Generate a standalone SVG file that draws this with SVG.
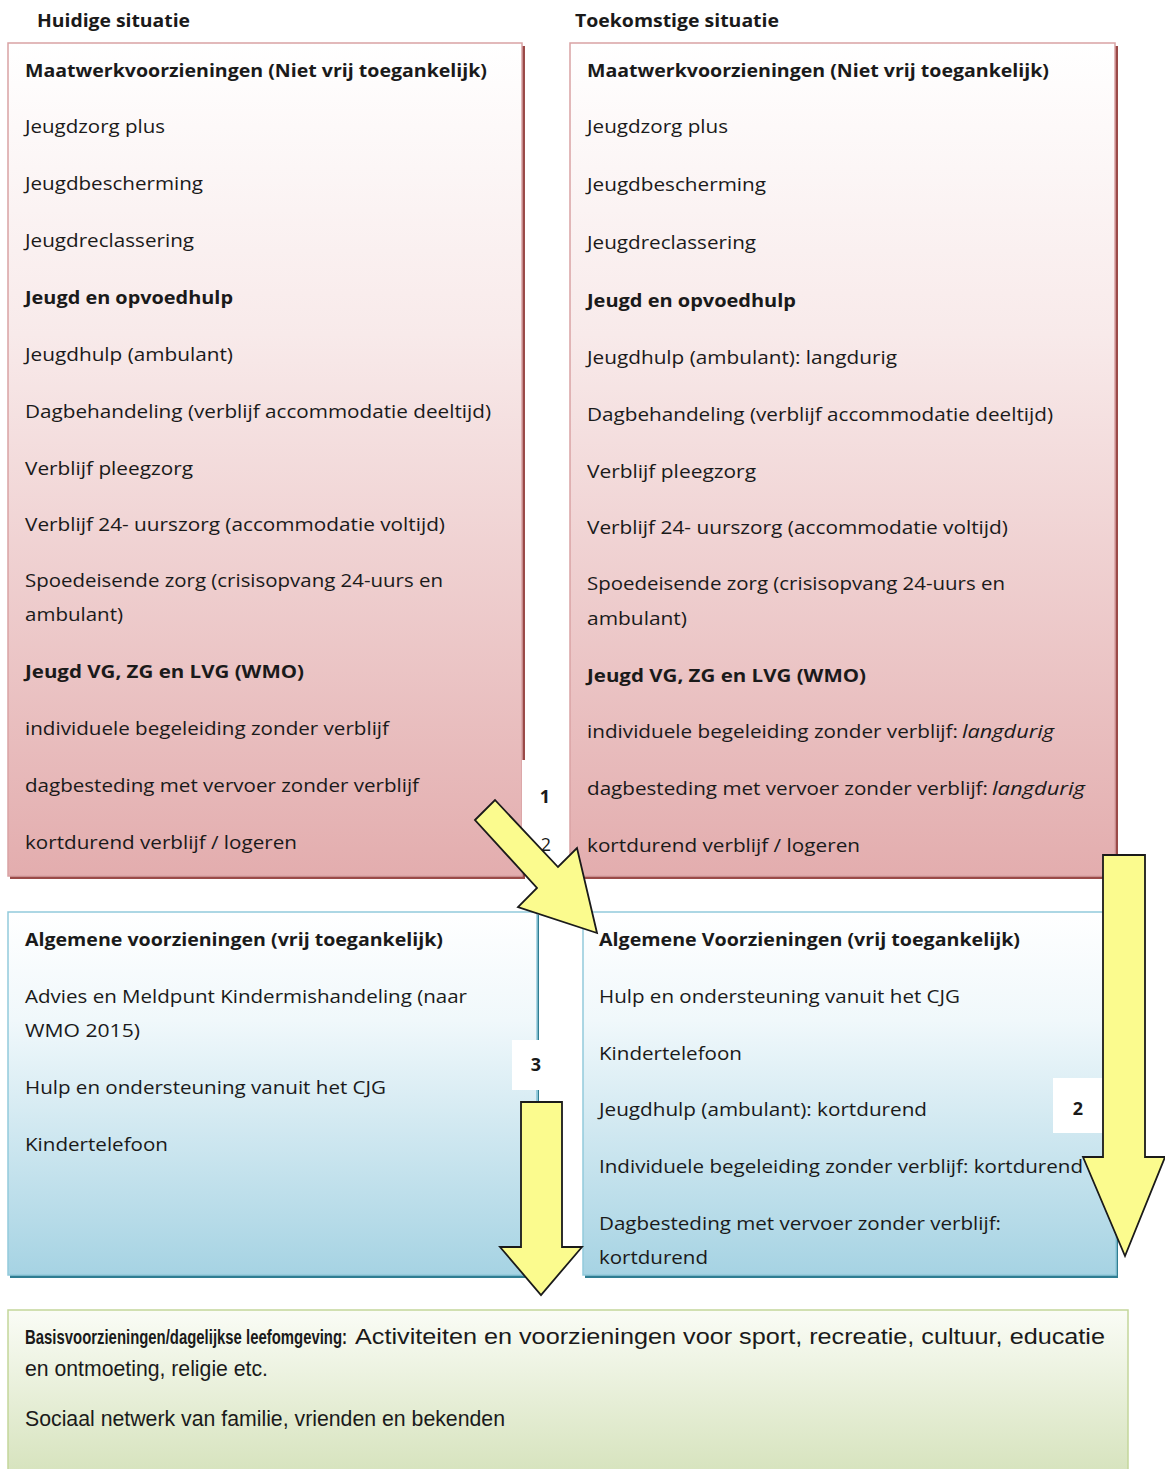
<svg xmlns="http://www.w3.org/2000/svg" width="1165" height="1469" viewBox="0 0 1165 1469">
<defs>
<linearGradient id="gRed" x1="0" y1="0" x2="0" y2="1">
<stop offset="0" stop-color="#ffffff"/><stop offset="0.35" stop-color="#f8eaea"/><stop offset="1" stop-color="#e3adae"/>
</linearGradient>
<linearGradient id="gBlue" x1="0" y1="0" x2="0" y2="1">
<stop offset="0" stop-color="#ffffff"/><stop offset="0.3" stop-color="#f0f8fb"/><stop offset="1" stop-color="#a6d3e3"/>
</linearGradient>
<linearGradient id="gGreen" x1="0" y1="0" x2="0" y2="1">
<stop offset="0" stop-color="#fafcf6"/><stop offset="1" stop-color="#d5e2bb"/>
</linearGradient>
<clipPath id="clipBR"><rect x="583" y="912" width="533" height="354"/></clipPath>
</defs>
<style>
text{font-family:"Open Sans","Liberation Sans",sans-serif;font-size:18px;fill:#1a1a1a}
.b{font-weight:bold}
.i{font-style:italic}
.g{font-family:"Liberation Sans",Arial,sans-serif;font-size:22px}
.gb{font-family:"Liberation Sans",Arial,sans-serif;font-size:14px;font-weight:bold}
.red{fill:url(#gRed);stroke:#d9a3a4;stroke-width:1.5}
.redsh{fill:#9a4a48}
.blue{fill:url(#gBlue);stroke:#92cadb;stroke-width:1.5}
.bluesh{fill:#2f7d92}
.green{fill:url(#gGreen);stroke:#c3d69b;stroke-width:1.5}
.lbl{fill:#ffffff}
.arrow{fill:#fbfb8e;stroke:#1a1a1a;stroke-width:1.8;stroke-linejoin:miter}
</style>

<g id="header-huidig"><text class="b" x="37" y="27" textLength="153" lengthAdjust="spacingAndGlyphs">Huidige situatie</text></g>
<g id="header-toekomst"><text class="b" x="575" y="27" textLength="204" lengthAdjust="spacingAndGlyphs">Toekomstige situatie</text></g>

<g id="maatwerk-huidig">
<rect class="redsh" x="10" y="46" width="515" height="833"/>
<rect class="red" x="8" y="43" width="514" height="833"/>
<text class="b" x="25" y="77" textLength="462" lengthAdjust="spacingAndGlyphs">Maatwerkvoorzieningen (Niet vrij toegankelijk)</text>
<text x="25" y="133" textLength="140" lengthAdjust="spacingAndGlyphs">Jeugdzorg plus</text>
<text x="25" y="190" textLength="178" lengthAdjust="spacingAndGlyphs">Jeugdbescherming</text>
<text x="25" y="247" textLength="169" lengthAdjust="spacingAndGlyphs">Jeugdreclassering</text>
<text class="b" x="25" y="304" textLength="208" lengthAdjust="spacingAndGlyphs">Jeugd en opvoedhulp</text>
<text x="25" y="361" textLength="208" lengthAdjust="spacingAndGlyphs">Jeugdhulp (ambulant)</text>
<text x="25" y="418" textLength="466" lengthAdjust="spacingAndGlyphs">Dagbehandeling (verblijf accommodatie deeltijd)</text>
<text x="25" y="475" textLength="168" lengthAdjust="spacingAndGlyphs">Verblijf pleegzorg</text>
<text x="25" y="531" textLength="420" lengthAdjust="spacingAndGlyphs">Verblijf 24- uurszorg (accommodatie voltijd)</text>
<text x="25" y="587" textLength="418" lengthAdjust="spacingAndGlyphs">Spoedeisende zorg (crisisopvang 24-uurs en</text>
<text x="25" y="621" textLength="98" lengthAdjust="spacingAndGlyphs">ambulant)</text>
<text class="b" x="25" y="678" textLength="279" lengthAdjust="spacingAndGlyphs">Jeugd VG, ZG en LVG (WMO)</text>
<text x="25" y="735" textLength="364" lengthAdjust="spacingAndGlyphs">individuele begeleiding zonder verblijf</text>
<text x="25" y="792" textLength="394" lengthAdjust="spacingAndGlyphs">dagbesteding met vervoer zonder verblijf</text>
<text x="25" y="849" textLength="272" lengthAdjust="spacingAndGlyphs">kortdurend verblijf / logeren</text>
</g>

<g id="maatwerk-toekomst">
<rect class="redsh" x="572" y="46" width="546" height="833"/>
<rect class="red" x="570" y="43" width="545" height="833"/>
<text class="b" x="587" y="77" textLength="462" lengthAdjust="spacingAndGlyphs">Maatwerkvoorzieningen (Niet vrij toegankelijk)</text>
<text x="587" y="133" textLength="141" lengthAdjust="spacingAndGlyphs">Jeugdzorg plus</text>
<text x="587" y="191" textLength="179" lengthAdjust="spacingAndGlyphs">Jeugdbescherming</text>
<text x="587" y="249" textLength="169" lengthAdjust="spacingAndGlyphs">Jeugdreclassering</text>
<text class="b" x="587" y="307" textLength="209" lengthAdjust="spacingAndGlyphs">Jeugd en opvoedhulp</text>
<text x="587" y="364" textLength="310" lengthAdjust="spacingAndGlyphs">Jeugdhulp (ambulant): langdurig</text>
<text x="587" y="421" textLength="466" lengthAdjust="spacingAndGlyphs">Dagbehandeling (verblijf accommodatie deeltijd)</text>
<text x="587" y="478" textLength="169" lengthAdjust="spacingAndGlyphs">Verblijf pleegzorg</text>
<text x="587" y="534" textLength="421" lengthAdjust="spacingAndGlyphs">Verblijf 24- uurszorg (accommodatie voltijd)</text>
<text x="587" y="590" textLength="418" lengthAdjust="spacingAndGlyphs">Spoedeisende zorg (crisisopvang 24-uurs en</text>
<text x="587" y="625" textLength="100" lengthAdjust="spacingAndGlyphs">ambulant)</text>
<text class="b" x="587" y="682" textLength="279" lengthAdjust="spacingAndGlyphs">Jeugd VG, ZG en LVG (WMO)</text>
<text x="587" y="738" textLength="371" lengthAdjust="spacingAndGlyphs">individuele begeleiding zonder verblijf:</text>
<text class="i" x="962" y="738" textLength="92" lengthAdjust="spacingAndGlyphs">langdurig</text>
<text x="587" y="795" textLength="401" lengthAdjust="spacingAndGlyphs">dagbesteding met vervoer zonder verblijf:</text>
<text class="i" x="992" y="795" textLength="93" lengthAdjust="spacingAndGlyphs">langdurig</text>
<text x="587" y="852" textLength="273" lengthAdjust="spacingAndGlyphs">kortdurend verblijf / logeren</text>
</g>

<g id="algemeen-huidig">
<rect class="bluesh" x="10" y="915" width="529" height="363"/>
<rect class="blue" x="8" y="912" width="529" height="363"/>
<text class="b" x="25" y="946" textLength="418" lengthAdjust="spacingAndGlyphs">Algemene voorzieningen (vrij toegankelijk)</text>
<text x="25" y="1003" textLength="442" lengthAdjust="spacingAndGlyphs">Advies en Meldpunt Kindermishandeling (naar</text>
<text x="25" y="1037" textLength="115" lengthAdjust="spacingAndGlyphs">WMO 2015)</text>
<text x="25" y="1094" textLength="361" lengthAdjust="spacingAndGlyphs">Hulp en ondersteuning vanuit het CJG</text>
<text x="25" y="1151" textLength="143" lengthAdjust="spacingAndGlyphs">Kindertelefoon</text>
</g>

<g id="algemeen-toekomst">
<rect class="bluesh" x="585" y="915" width="533" height="363"/>
<rect class="blue" x="583" y="912" width="533" height="363"/>
<g clip-path="url(#clipBR)">
<text class="b" x="599" y="946" textLength="421" lengthAdjust="spacingAndGlyphs">Algemene Voorzieningen (vrij toegankelijk)</text>
<text x="599" y="1003" textLength="361" lengthAdjust="spacingAndGlyphs">Hulp en ondersteuning vanuit het CJG</text>
<text x="599" y="1060" textLength="143" lengthAdjust="spacingAndGlyphs">Kindertelefoon</text>
<text x="599" y="1116" textLength="328" lengthAdjust="spacingAndGlyphs">Jeugdhulp (ambulant): kortdurend</text>
<text x="599" y="1173" textLength="484" lengthAdjust="spacingAndGlyphs">Individuele begeleiding zonder verblijf: kortdurend</text>
<text x="599" y="1230" textLength="402" lengthAdjust="spacingAndGlyphs">Dagbesteding met vervoer zonder verblijf:</text>
<text x="599" y="1264" textLength="109" lengthAdjust="spacingAndGlyphs">kortdurend</text>
</g>
</g>

<g id="basisvoorzieningen">
<rect class="green" x="8" y="1310" width="1120" height="170"/>
<text class="gb" transform="translate(25,1344) scale(1,1.4)" x="0" y="0" textLength="322" lengthAdjust="spacingAndGlyphs">Basisvoorzieningen/dagelijkse leefomgeving:</text>
<text class="g" x="355" y="1344" textLength="750" lengthAdjust="spacingAndGlyphs">Activiteiten en voorzieningen voor sport, recreatie, cultuur, educatie</text>
<text class="g" x="25" y="1376" textLength="243" lengthAdjust="spacingAndGlyphs">en ontmoeting, religie etc.</text>
<text class="g" x="25" y="1426" textLength="480" lengthAdjust="spacingAndGlyphs">Sociaal netwerk van familie, vrienden en bekenden</text>
</g>

<g id="label-1">
<rect class="lbl" x="522" y="760" width="47" height="97"/>
<text class="b" x="545" y="803" text-anchor="middle" font-size="20">1</text>
<text x="546" y="851" text-anchor="middle" font-size="7">2</text>
</g>
<g id="label-3">
<rect class="lbl" x="512" y="1040" width="48" height="50"/>
<line x1="537" y1="1090" x2="537" y2="1102" stroke="#92cadb" stroke-width="1.5"/>
<text class="b" x="536" y="1071" text-anchor="middle" font-size="20">3</text>
</g>
<g id="label-2">
<rect class="lbl" x="1053" y="1078" width="50" height="55"/>
<text class="b" x="1078" y="1115" text-anchor="middle" font-size="20">2</text>
</g>

<g id="connectors">
<polygon class="arrow" points="475,820 495,800 558,867 577,848 597,933 518,907 537,888"/>
<polygon class="arrow" points="1103,855 1145,855 1145,1157 1165,1157 1125,1256 1083,1157 1103,1157"/>
<polygon class="arrow" points="521,1102 562,1102 562,1247 582,1247 541,1295 500,1247 521,1247"/>
</g>
</svg>
